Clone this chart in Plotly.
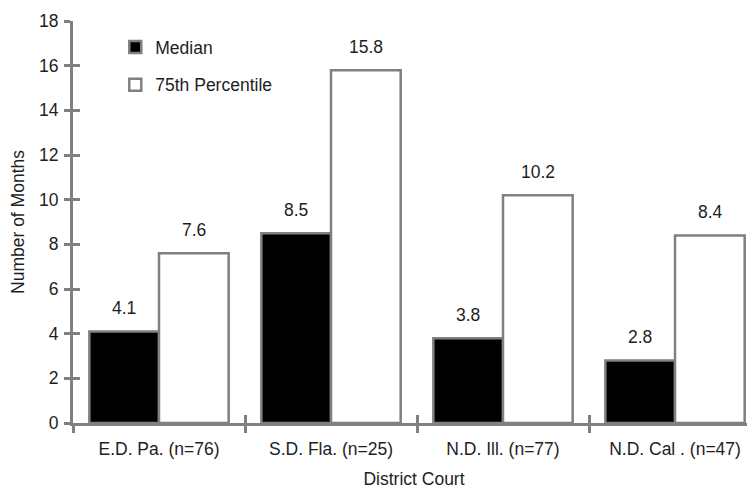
import plotly.graph_objects as go

categories = ["E.D. Pa. (n=76)", "S.D. Fla. (n=25)", "N.D. Ill. (n=77)", "N.D. Cal . (n=47)"]
median = [4.1, 8.5, 3.8, 2.8]
pct75 = [7.6, 15.8, 10.2, 8.4]
y_ticks = [0, 2, 4, 6, 8, 10, 12, 14, 16, 18]

GRAY = "#808080"
TXT = "#1e1e1e"
FONT = "Liberation Sans, Arial, sans-serif"
FS = 17.5

fig = go.Figure()
fig.add_trace(go.Bar(name="Median", x=categories, y=median, legendgroup="a",
                     marker=dict(color="black", line=dict(color=GRAY, width=2.5))))
fig.add_trace(go.Bar(name="75th Percentile", x=categories, y=pct75, legendgroup="b",
                     marker=dict(color="white", line=dict(color=GRAY, width=2.5))))
# empty trace so the overlay axes (inner tick halves) are drawn
fig.add_trace(go.Scatter(x=[], y=[], xaxis="x2", yaxis="y2", showlegend=False,
                         hoverinfo="skip"))

# value labels above bars
for i, c in enumerate(categories):
    for vals, dx in ((median, -35), (pct75, 35)):
        fig.add_annotation(x=c, y=vals[i], xref="x", yref="y", text=f"{vals[i]:.1f}",
                           showarrow=False, xshift=dx, yshift=11, yanchor="bottom",
                           font=dict(size=FS, color=TXT, family=FONT))

XR = [-0.5, 3.465]

fig.update_layout(
    width=747, height=487,
    margin=dict(l=65, r=0, t=13, b=72),
    paper_bgcolor="white", plot_bgcolor="white",
    barmode="group", bargap=0.19, bargroupgap=0,
    font=dict(family=FONT, size=FS, color=TXT),
    showlegend=True,
    legend=dict(x=0.062, y=0.98, xanchor="left", yanchor="top", traceorder="grouped",
                bgcolor="rgba(0,0,0,0)", font=dict(size=FS, color=TXT),
                tracegroupgap=12),
    xaxis=dict(range=XR, showline=True, linecolor=GRAY, linewidth=3,
               ticks="outside", tickson="boundaries", ticklen=7, tickwidth=3,
               tickcolor=GRAY, showgrid=False, zeroline=False, automargin=False,
               ticklabelstandoff=8,
               title=dict(text="District Court", font=dict(size=FS)),
               tickfont=dict(size=FS)),
    yaxis=dict(range=[0, 18], tickvals=y_ticks, showline=True, linecolor=GRAY,
               linewidth=3, ticks="outside", ticklen=6, tickwidth=3, tickcolor=GRAY,
               showgrid=False, zeroline=False, ticklabelstandoff=2, automargin=False,
               title=dict(text="Number of Months", font=dict(size=FS)),
               tickfont=dict(size=FS)),
    yaxis2=dict(overlaying="y", range=[0, 18], tickvals=y_ticks, ticks="inside",
                ticklen=7, tickwidth=3, tickcolor=GRAY, showticklabels=False,
                showline=False, showgrid=False, zeroline=False, side="left"),
    xaxis2=dict(overlaying="x", range=XR, tickvals=[-0.5, 0.5, 1.5, 2.5, 3.5],
                ticks="inside", ticklen=8, tickwidth=3, tickcolor=GRAY,
                showticklabels=False, showline=False, showgrid=False, zeroline=False,
                side="bottom"),
)

fig.write_html("out.html")
